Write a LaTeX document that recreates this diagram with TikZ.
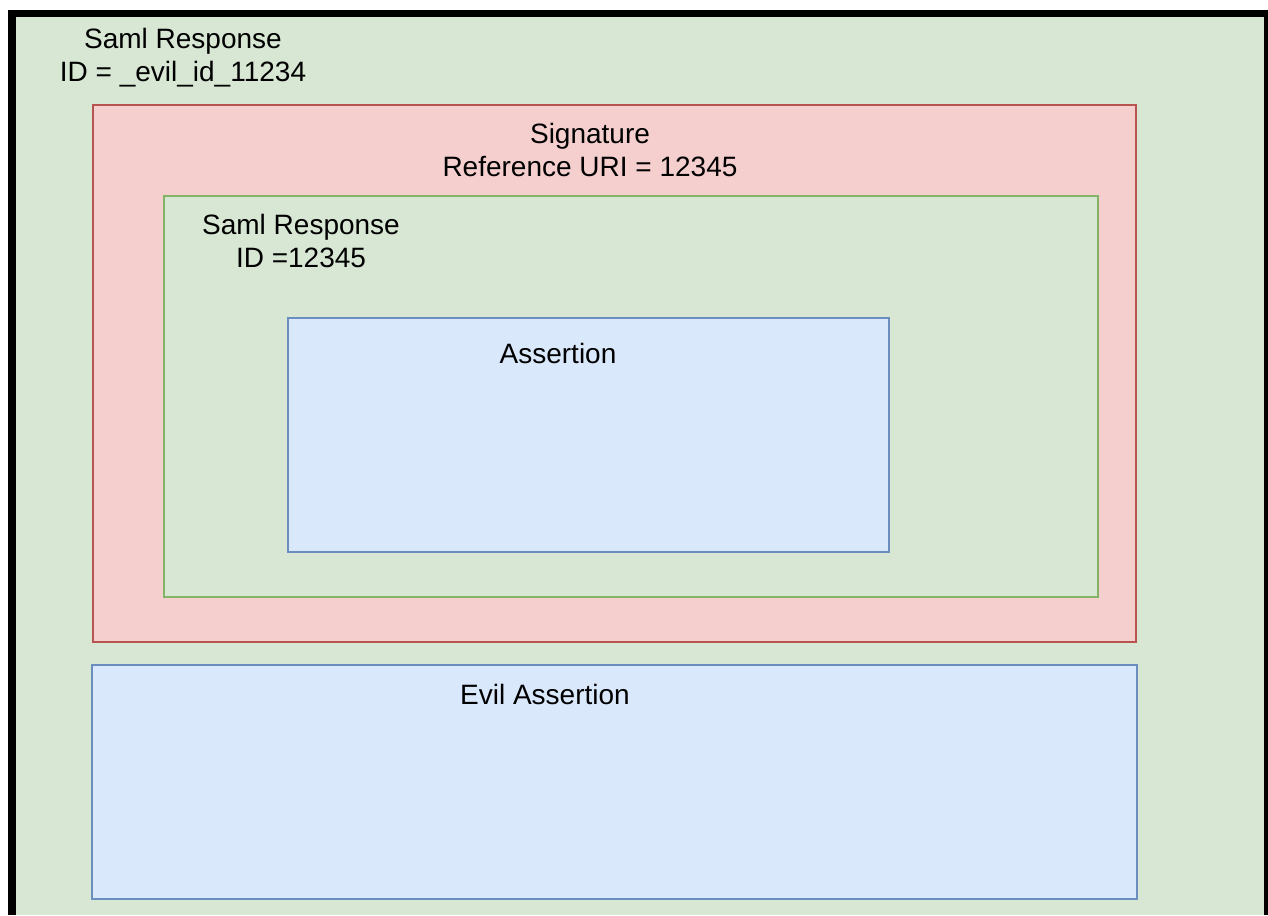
\documentclass[tikz,border=0pt]{standalone}
\usepackage{fontspec}
\setmainfont{Liberation Sans}
\usetikzlibrary{fit,positioning}
\definecolor{greenfill}{HTML}{D7E7D4}
\definecolor{greenline}{HTML}{82B366}
\definecolor{redfill}{HTML}{F4CFCD}
\definecolor{redline}{HTML}{B85450}
\definecolor{bluefill}{HTML}{DAE8FC}
\definecolor{blueline}{HTML}{6C8EBF}
\tikzset{
    every picture/.style={line width=0.6pt},
    sigbox/.style={draw=redline, fill=redfill, inner sep=0pt},
    respbox/.style={draw=greenline, fill=greenfill, inner sep=0pt},
    assbox/.style={draw=blueline, fill=bluefill, inner sep=0pt},
    lbl/.style={align=center, font=\fontsize{14}{16.5}\selectfont, inner sep=0pt}
}

\begin{document}
\begin{tikzpicture}[x=0.5pt, y=-0.5pt]
    \useasboundingbox (0,0) rectangle (1268,915);
    % outer frame
    \fill[black] (8,10) rectangle (1268,915);
    \fill[greenfill] (16,17) rectangle (1264,915);
    \node[lbl] (outer) at (183,58) {Saml Response\\ID = \_evil\_id\_11234};

    \node[sigbox, fit={(93,105) (1136,642)}] (sig) {};
    \node[lbl] (siglbl) at (590,150) {Signature\\Reference URI = 12345};

    \node[respbox, fit={(164,196) (1098,597)}] (resp) {};
    \node[lbl] (resplbl) at (301,241) {Saml Response\\ID =12345};

    \node[assbox, fit={(288,318) (889,552)}] (ass) {};
    \node[lbl] (asslbl) at (558,353) {Assertion};

    \node[assbox, fit={(92,665) (1137,899)}] (evil) {};
    \node[lbl] (evillbl) at (545,694) {Evil Assertion};
\end{tikzpicture}
\end{document}
